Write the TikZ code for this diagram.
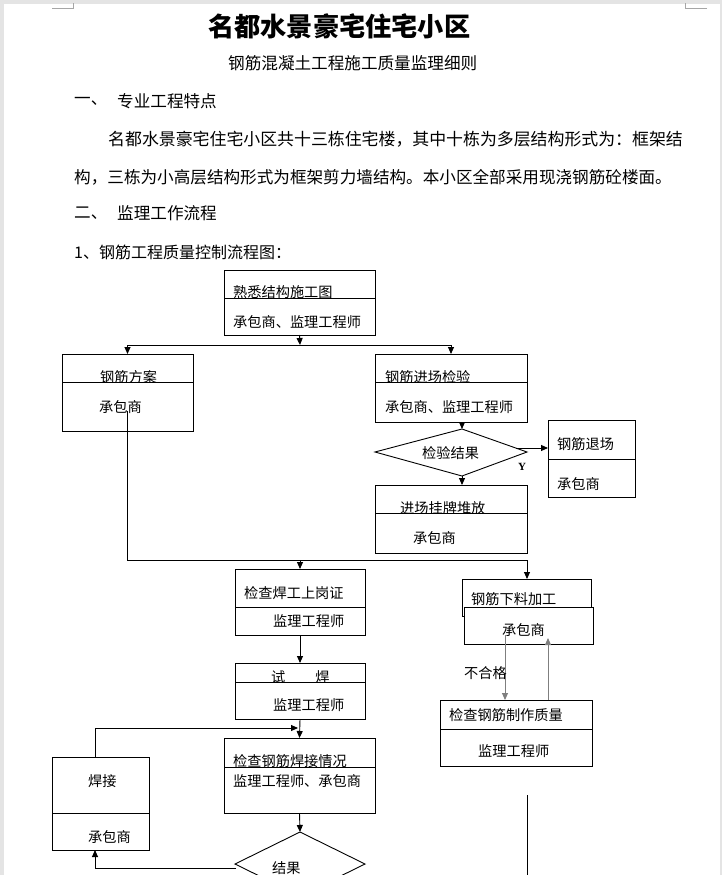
\documentclass[tikz,border=0pt]{standalone}
\usepackage{fontspec}
\setmainfont{Noto Sans CJK SC}
\newfontfamily\yfont{Liberation Serif}
\usetikzlibrary{arrows.meta}
\definecolor{yebian}{HTML}{E4E4E4}
\definecolor{biaoji}{HTML}{A6A6A6}
\definecolor{huise}{HTML}{7F7F7F}
\begin{document}
\begin{tikzpicture}[x=1pt,y=-1pt,
  ge/.style={draw,fill=white,line width=0.9pt,inner sep=0pt,outer sep=0pt,anchor=north west},
  zi/.style={inner sep=0pt,anchor=west,font=\fontsize{14.2}{14.2}\selectfont},
  wen/.style={inner sep=0pt,anchor=west,font=\fontsize{16.6}{16.6}\selectfont},
  xian/.style={line width=0.9pt},
  jt/.style={line width=0.9pt,-{Triangle[width=6pt,length=7pt]}}]
\useasboundingbox (0,0) rectangle (722,875);
% page
\fill[yebian] (0,0) rectangle (722,875);
\fill[white] (4,4) rectangle (720,890);
\draw[biaoji,line width=0.8pt] (52,8) -- (73,8) -- (73,3);
\draw[biaoji,line width=0.8pt] (707,8) -- (685,8) -- (685,3);
% text
\node[inner sep=0pt,anchor=west,font=\bfseries\fontsize{26.2}{26.2}\selectfont] (biaoti) at (208,26) {名都水景豪宅住宅小区};
\node[wen] (fubiaoti) at (228,63) {钢筋混凝土工程施工质量监理细则};
\node[wen] (yi) at (74,101) {一、};
\node[wen] (tedian) at (117,101) {专业工程特点};
\node[wen,font=\fontsize{16.9}{16.9}\selectfont] (duan1) at (108,139) {名都水景豪宅住宅小区共十三栋住宅楼，其中十栋为多层结构形式为：框架结};
\node[wen] (duan2) at (74,177) {构，三栋为小高层结构形式为框架剪力墙结构。本小区全部采用现浇钢筋砼楼面。};
\node[wen] (er) at (74,213) {二、};
\node[wen] (liucheng) at (117,213) {监理工作流程};
\node[wen,font=\fontsize{16}{16}\selectfont] (tu) at (74,252) {1、钢筋工程质量控制流程图：};
% boxes
\node[ge,minimum width=151pt,minimum height=28pt] (shutu) at (224,270) {};
\node[zi] at (233,292) {熟悉结构施工图};
\node[ge,minimum width=151pt,minimum height=37pt] (shutu-r) at (224,298) {};
\node[zi] at (233,322) {承包商、监理工程师};
\node[ge,minimum width=131pt,minimum height=28pt] (fangan) at (62,354) {};
\node[zi] at (100,377) {钢筋方案};
\node[ge,minimum width=131pt,minimum height=49pt] (fangan-r) at (62,382) {};
\node[zi] at (99,407) {承包商};
\node[ge,minimum width=152pt,minimum height=28pt] (jinchang) at (375,354) {};
\node[zi] at (385,377) {钢筋进场检验};
\node[ge,minimum width=152pt,minimum height=40pt] (jinchang-r) at (375,382) {};
\node[zi] at (385,407) {承包商、监理工程师};
\node[ge,minimum width=87pt,minimum height=39pt] (tuichang) at (548,420) {};
\node[zi] at (557,444) {钢筋退场};
\node[ge,minimum width=87pt,minimum height=38pt] (tuichang-r) at (548,459) {};
\node[zi] at (557,484) {承包商};
\node[ge,minimum width=152pt,minimum height=28pt] (duifang) at (375,485) {};
\node[zi] at (400,508) {进场挂牌堆放};
\node[ge,minimum width=152pt,minimum height=40pt] (duifang-r) at (375,513) {};
\node[zi] at (413,538) {承包商};
\node[ge,minimum width=130pt,minimum height=38pt] (hanzheng) at (235,569) {};
\node[zi] at (244,593) {检查焊工上岗证};
\node[ge,minimum width=130pt,minimum height=28pt] (hanzheng-r) at (235,607) {};
\node[zi] at (273,621) {监理工程师};
\node[ge,minimum width=130pt,minimum height=19pt] (shihan) at (235,663) {};
\node[zi] at (271,677) {试\hspace{30pt}焊};
\node[ge,minimum width=130pt,minimum height=37pt] (shihan-r) at (235,682) {};
\node[zi] at (273,705) {监理工程师};
\node[ge,minimum width=151pt,minimum height=29pt] (hanjie) at (224,738) {};
\node[zi] at (233,761) {检查钢筋焊接情况};
\node[ge,minimum width=151pt,minimum height=46pt] (hanjie-r) at (224,767) {};
\node[zi] at (233,781) {监理工程师、承包商};
\node[ge,minimum width=97pt,minimum height=56pt] (hanjiegong) at (52,757) {};
\node[zi] at (88,781) {焊接};
\node[ge,minimum width=97pt,minimum height=37pt] (hanjiegong-r) at (52,813) {};
\node[zi] at (88,837) {承包商};
\node[ge,minimum width=129pt,minimum height=37pt] (xialiao) at (462,579) {};
\node[zi] at (471,599) {钢筋下料加工};
\node[ge,minimum width=129pt,minimum height=37pt] (xialiao-r) at (464,607) {};
\node[zi] at (502,630) {承包商};
\node[ge,minimum width=152pt,minimum height=29pt] (zhiliang) at (440,700) {};
\node[zi] at (449,715) {检查钢筋制作质量};
\node[ge,minimum width=152pt,minimum height=37pt] (zhiliang-r) at (440,729) {};
\node[zi] at (478,751) {监理工程师};
% diamonds
\coordinate (jy-l) at (375,452);
\coordinate (jy-t) at (462,429);
\coordinate (jy-r) at (527,452);
\coordinate (jy-b) at (462,476);
\draw[xian] (jy-l) -- (jy-t) -- (jy-r) -- (jy-b) -- cycle;
\node[zi] (jianyan) at (422,453) {检验结果};
\coordinate (jg-l) at (235,864);
\coordinate (jg-t) at (300,832);
\coordinate (jg-r) at (365,864);
\coordinate (jg-b) at (300,896);
\draw[xian] (jg-l) -- (jg-t) -- (jg-r) -- (jg-b) -- cycle;
\node[zi] (jieguo) at (272,868) {结果};
% connectors
\coordinate (fen) at (300,345);
\draw[jt] (shutu-r.south) -- (fen);
\draw[xian] (fangan.north |- fen) -- (jinchang.north |- fen);
\draw[jt] (fangan.north |- fen) -- (fangan.north);
\draw[jt] (jinchang.north |- fen) -- (jinchang.north);
\draw[jt] (jinchang-r.south -| jy-t) -- (jy-t);
\coordinate (jy-y) at (516,448);
\draw[jt] (jy-y) -- (jy-y -| tuichang.west);
\node[inner sep=0pt,font=\yfont\bfseries\fontsize{11}{11}\selectfont] (y) at (522,467) {Y};
\draw[jt] (jy-b) -- (jy-b |- duifang.north);
\coordinate (fa) at (127,411);
\coordinate (hui) at (527,560);
\draw[xian] (fa) -- (fa |- hui) -- (hui);
\draw[jt] (hui) -- (hui |- xialiao.north);
\draw[jt] (hanzheng.north |- hui) -- (hanzheng.north);
\draw[jt] (hanzheng-r.south) -- (shihan.north);
\draw[jt] (shihan-r.south) -- (hanjie.north);
\coordinate (hj) at (95,757);
\coordinate (he) at (298,728);
\draw[jt] (hj) -- (hj |- he) -- (he);
\draw[jt] (hanjie-r.south) -- (jg-t);
\coordinate (jg-x) at (236,868);
\draw[jt] (jg-x) -- (jg-x -| hj) -- (hj |- hanjiegong-r.south);
\coordinate (bh1) at (505,635);
\coordinate (bh2) at (548,638);
\draw[jt,huise] (bh1) -- (bh1 |- zhiliang.north);
\draw[jt,huise] (bh2 |- zhiliang.north) -- (bh2);
\node[zi] (buhege) at (464,673) {不合格};
\coordinate (hg) at (527,795);
\draw[xian] (hg) -- (527,890);
\node[zi] (hege) at (441,882) {合格};
\end{tikzpicture}
\end{document}
